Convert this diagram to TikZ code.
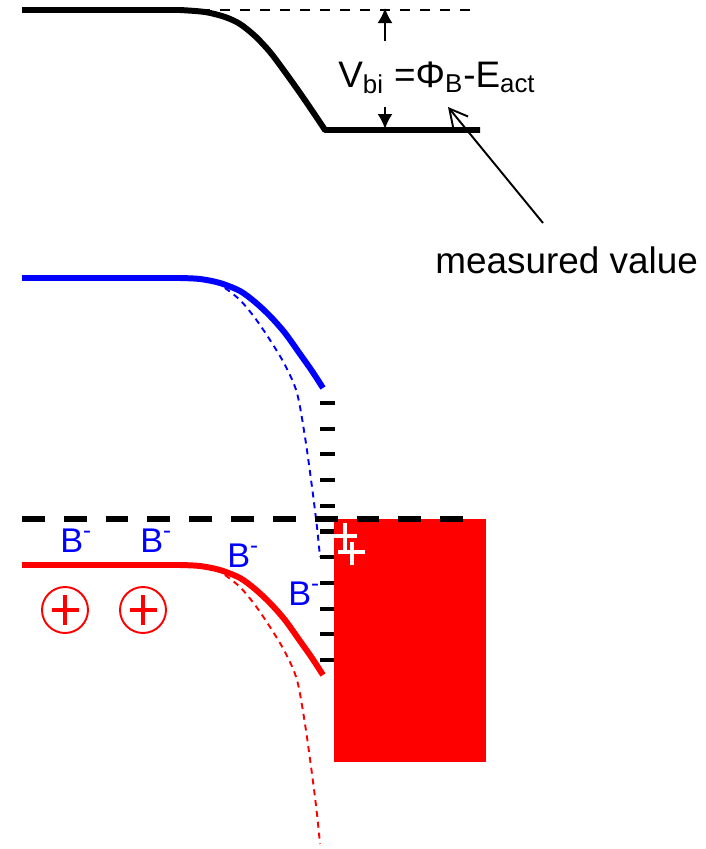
\documentclass[tikz,border=0pt]{standalone}
\usepackage{fontspec}
\setmainfont{Liberation Sans}
\usetikzlibrary{calc}
\usetikzlibrary{positioning}
\usetikzlibrary{arrows.meta}

\tikzset{
  band/.style={line width=3.4pt, line join=round},
  bentdash/.style={line width=1.1pt, dash pattern=on 3.4pt off 2.8pt},
  tickmark/.style={line width=2.3pt},
  ion/.style={circle, draw=red, line width=1.1pt, minimum size=0.92cm, inner sep=0pt},
  charge/.style={text=blue, font=\fontsize{19.5}{22}\selectfont, anchor=base west, inner sep=0pt},
  bigtext/.style={font=\fontsize{21}{24}\selectfont, anchor=base west, inner sep=0pt},
}

\begin{document}
\begin{tikzpicture}[x=0.02cm, y=-0.02cm]
    \useasboundingbox (0,0) rectangle (706,849);

    % black band with V_bi
    \draw[line width=1.1pt, dash pattern=on 5.7pt off 5.7pt] (200,10) -- (480,10);
    \draw[band] (22,10) -- plot[smooth, tension=0.5] coordinates
      {(180,10) (205,12) (225,17) (240,24) (255,36) (270,52) (285,72) (300,93) (313,112) (325,130)}
      -- (480,130);

    \node[bigtext] (vbi) at (338,87) {V\textsubscript{bi} =Φ\textsubscript{B}-E\textsubscript{act}};
    \node[bigtext] (meas) at (435,273) {measured value};

    \coordinate (vtop) at (385,8);
    \coordinate (vtopfrom) at (385,41);
    \coordinate (vbot) at (385,129);
    \coordinate (vbotfrom) at (385,107);
    \draw[-{Latex[length=0.3cm,width=0.3cm]}, line width=1.1pt] (vtopfrom) -- (vtop);
    \draw[-{Latex[length=0.3cm,width=0.3cm]}, line width=1.1pt] (vbotfrom) -- (vbot);

    \coordinate (mtail) at (543,223);
    \coordinate (mtip) at (448,107);
    \draw[-{Straight Barb[length=0.36cm,width=0.38cm]}, line width=1.1pt] (mtail) -- (mtip);

    % blue and red bands, bent and (dashed) more bent
    \foreach \col/\dy in {blue/0, red/287}{
      \begin{scope}[shift={(0,\dy)}, \col]
        \draw[band] (22,278) -- plot[smooth, tension=0.5] coordinates
          {(180,278) (200,279) (220,283) (240,291) (255,302) (270,316) (285,333) (300,354) (312,371) (323,388)};
        \draw[bentdash] plot[smooth, tension=0.5] coordinates
          {(225,288) (240,300) (255,318) (270,340) (285,365) (297,393) (305,437) (312,487) (317,527) (320,557)};
      \end{scope}
    }

    % surface states
    \foreach \k in {0,...,10}{
      \draw[tickmark] (320,403+25.7*\k) -- (335,403+25.7*\k);
    }

    \fill[red] (334,519) rectangle (486,762);
    \draw[line width=3.8pt, dash pattern=on 13pt off 10.8pt] (22,519) -- (465,519);

    \draw[white, line width=2.3pt] (333,536) -- (357,536) (345,523) -- (345,550)
      (338,552) -- (365,552) (352,542) -- (352,565);

    % charges
    \foreach \i/\x/\y in {1/60/552, 2/140/552, 3/227/567, 4/288/605}{
      \node[charge] (b\i) at (\x,\y) {B\textsuperscript{-}};
    }
    \foreach \i/\x in {1/65, 2/143}{
      \node[ion] (ion\i) at (\x,610) {};
      \draw[red, line width=2.8pt] ($(ion\i)+(-13.5,0)$) -- ($(ion\i)+(13.5,0)$)
        ($(ion\i)+(0,-15)$) -- ($(ion\i)+(0,15)$);
    }

  \end{tikzpicture}
\end{document}
